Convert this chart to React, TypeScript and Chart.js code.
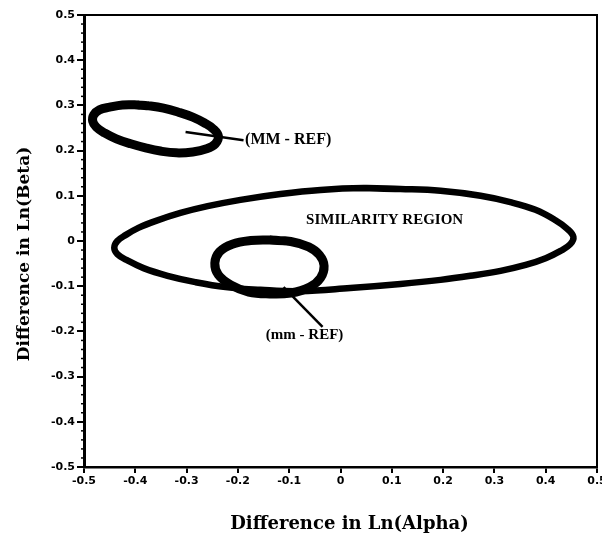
import React, { useEffect, useRef } from 'react';
import { Chart, registerables } from 'chart.js';

Chart.register(...registerables);

// ---- tick values and labels ----
const xTickValues = [-0.5, -0.4, -0.3, -0.2, -0.1, 0, 0.1, 0.2, 0.3, 0.4, 0.5];
const xTickLabels = ['-0.5', '-0.4', '-0.3', '-0.2', '-0.1', '0', '0.1', '0.2', '0.3', '0.4', '0.5'];
const yTickValues = [0.5, 0.4, 0.3, 0.2, 0.1, 0, -0.1, -0.2, -0.3, -0.4, -0.5];
const yTickLabels = ['0.5', '0.4', '0.3', '0.2', '0.1', '0', '-0.1', '-0.2', '-0.3', '-0.4', '-0.5'];

// ---- outlines (x = diff Ln(Alpha), y = diff Ln(Beta)) ----
const similarityRegion: [number, number][] = [
  [0.045, 0.117], [0.117, 0.115], [0.195, 0.111], [0.273, 0.1], [0.331, 0.086],
  [0.38, 0.069], [0.419, 0.046], [0.442, 0.027], [0.454, 0.009], [0.448, -0.007],
  [0.429, -0.022], [0.4, -0.038], [0.361, -0.053], [0.312, -0.066], [0.253, -0.077],
  [0.195, -0.086], [0.117, -0.095], [0.019, -0.104], [-0.078, -0.111], [-0.156, -0.108],
  [-0.224, -0.102], [-0.283, -0.091], [-0.337, -0.077], [-0.384, -0.06], [-0.417, -0.042],
  [-0.435, -0.029], [-0.441, -0.015], [-0.435, 0.0], [-0.419, 0.013], [-0.394, 0.029],
  [-0.361, 0.044], [-0.312, 0.062], [-0.259, 0.077], [-0.195, 0.091], [-0.117, 0.104],
  [-0.039, 0.113],
];
const upperMMRef: [number, number][] = [
  [-0.396, 0.301], [-0.374, 0.299], [-0.345, 0.294], [-0.316, 0.285], [-0.288, 0.274],
  [-0.265, 0.261], [-0.248, 0.248], [-0.238, 0.232], [-0.244, 0.215], [-0.261, 0.204],
  [-0.288, 0.197], [-0.32, 0.195], [-0.351, 0.199], [-0.38, 0.206], [-0.409, 0.215],
  [-0.437, 0.226], [-0.46, 0.239], [-0.476, 0.252], [-0.483, 0.265], [-0.481, 0.279],
  [-0.47, 0.29], [-0.45, 0.296], [-0.425, 0.301],
];
const lowerMMRef: [number, number][] = [
  [-0.138, 0.002], [-0.097, -0.001], [-0.062, -0.013], [-0.041, -0.031], [-0.032, -0.055],
  [-0.039, -0.082], [-0.06, -0.102], [-0.097, -0.115], [-0.138, -0.117], [-0.179, -0.113],
  [-0.214, -0.097], [-0.238, -0.075], [-0.245, -0.049], [-0.236, -0.024], [-0.211, -0.007],
  [-0.175, 0.001],
];
const upperLeader: [number, number][] = [[-0.302, 0.241], [-0.189, 0.223]];
const lowerLeader: [number, number][] = [[-0.111, -0.102], [-0.035, -0.19]];

const labelTexts = ['SIMILARITY REGION', '(MM - REF)', '(mm - REF)'];
const labelX = [0.086, -0.186, -0.07];
const labelY = [0.046, 0.223, -0.208];
const labelAlign: CanvasTextAlign[] = ['center', 'left', 'center'];

const xTitle = 'Difference in Ln(Alpha)';
const yTitle = 'Difference in Ln(Beta)';

const closeLoop = (pts: [number, number][]) =>
  [...pts, pts[0], pts[1]].map(([x, y]) => ({ x, y }));
const asPoints = (pts: [number, number][]) => pts.map(([x, y]) => ({ x, y }));

const decorPlugin = {
  id: 'decor',
  afterDraw(chart: any) {
    const { ctx, chartArea } = chart;
    const xs = chart.scales.x;
    const ys = chart.scales.y;
    ctx.save();
    // top & right frame
    ctx.strokeStyle = '#000';
    ctx.lineWidth = 2;
    ctx.beginPath();
    ctx.moveTo(chartArea.left, chartArea.top);
    ctx.lineTo(chartArea.right, chartArea.top);
    ctx.lineTo(chartArea.right, chartArea.bottom);
    ctx.stroke();
    // minor ticks on y axis
    ctx.lineWidth = 1.5;
    for (let i = 0; i < yTickValues.length - 1; i++) {
      const a = yTickValues[i];
      const b = yTickValues[i + 1];
      for (let k = 1; k < 5; k++) {
        const py = ys.getPixelForValue(a + ((b - a) * k) / 5);
        ctx.beginPath();
        ctx.moveTo(chartArea.left, py);
        ctx.lineTo(chartArea.left - 3, py);
        ctx.stroke();
      }
    }
    // annotations
    ctx.fillStyle = '#000';
    ctx.textBaseline = 'middle';
    labelTexts.forEach((t, i) => {
      ctx.font = i === 1 ? 'bold 16px "Liberation Serif"' : 'bold 15px "Liberation Serif"';
      ctx.textAlign = labelAlign[i];
      ctx.fillText(t, xs.getPixelForValue(labelX[i]), ys.getPixelForValue(labelY[i]));
    });
    // axis titles
    ctx.textAlign = 'center';
    ctx.font = 'bold 18px "DejaVu Serif"';
    ctx.fillText(xTitle, (chartArea.left + chartArea.right) / 2 + 9, 524);
    ctx.font = 'bold 17px "DejaVu Serif"';
    ctx.translate(25, (chartArea.top + chartArea.bottom) / 2 + 13);
    ctx.rotate(-Math.PI / 2);
    ctx.fillText(yTitle, 0, 0);
    ctx.restore();
  },
};

export default function App() {
  const ref = useRef<HTMLCanvasElement | null>(null);
  useEffect(() => {
    document.body.style.margin = '0';
    const canvas = ref.current;
    if (!canvas) return;
    const tickFont = { family: 'DejaVu Sans', weight: 'bold' as const, size: 11 };
    const chart = new Chart(canvas, {
      type: 'scatter',
      data: {
        datasets: [
          { data: closeLoop(similarityRegion), showLine: true, borderColor: '#000', borderWidth: 6.5, tension: 0.4, pointRadius: 0 },
          { data: closeLoop(upperMMRef), showLine: true, borderColor: '#000', borderWidth: 9, tension: 0.4, pointRadius: 0 },
          { data: closeLoop(lowerMMRef), showLine: true, borderColor: '#000', borderWidth: 9, tension: 0.4, pointRadius: 0 },
          { data: asPoints(upperLeader), showLine: true, borderColor: '#000', borderWidth: 2.5, pointRadius: 0 },
          { data: asPoints(lowerLeader), showLine: true, borderColor: '#000', borderWidth: 2.5, pointRadius: 0 },
        ],
      },
      options: {
        animation: false,
        responsive: false,
        events: [],
        layout: { padding: { left: 0, right: 5, top: 15, bottom: 0 } },
        plugins: { legend: { display: false }, tooltip: { enabled: false } },
        scales: {
          x: {
            type: 'linear',
            min: -0.5,
            max: 0.5,
            afterBuildTicks: (s: any) => { s.ticks = xTickValues.map((v) => ({ value: v })); },
            afterFit: (s: any) => { s.height = 68; s.paddingLeft = 0; s.paddingRight = 0; },
            ticks: {
              callback: (_v: any, i: number) => xTickLabels[i],
              font: tickFont, color: '#000', padding: 2, maxRotation: 0, autoSkip: false,
            },
            grid: { display: true, drawOnChartArea: false, drawTicks: true, tickLength: 6, color: '#000', lineWidth: 2 },
            border: { display: true, color: '#000', width: 2.5 },
          },
          y: {
            type: 'linear',
            min: -0.5,
            max: 0.5,
            afterBuildTicks: (s: any) => { s.ticks = yTickValues.map((v) => ({ value: v })); },
            afterFit: (s: any) => { s.width = 84; s.paddingTop = 0; s.paddingBottom = 0; },
            ticks: {
              callback: (_v: any, i: number) => yTickLabels[i],
              font: tickFont, color: '#000', padding: 2, autoSkip: false,
            },
            grid: { display: true, drawOnChartArea: false, drawTicks: true, tickLength: 7, color: '#000', lineWidth: 2 },
            border: { display: true, color: '#000', width: 3 },
          },
        },
      },
      plugins: [decorPlugin],
    });
    return () => chart.destroy();
  }, []);
  return <canvas ref={ref} width={602} height={535} style={{ display: 'block' }} />;
}
